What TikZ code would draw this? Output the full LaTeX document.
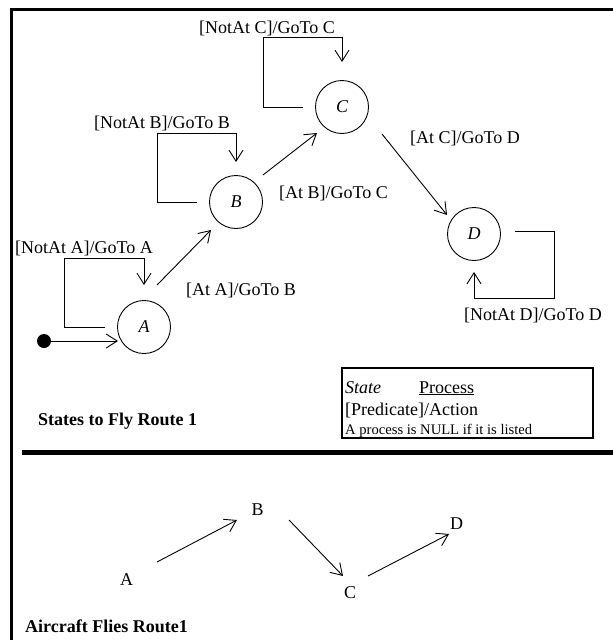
\documentclass[tikz,border=0pt]{standalone}
\usepackage{fontspec}
\setmainfont{Liberation Serif}
\usetikzlibrary{arrows.meta}
\tikzset{
  arr/.style={-{Straight Barb[length=11pt,width=14pt,line width=0.9pt]}, line width=0.9pt},
  state/.style={circle, draw, line width=0.9pt, minimum size=53pt, inner sep=0pt, font=\fontsize{18}{20}\selectfont\itshape},
  lbl/.style={inner sep=0pt, anchor=base west, font=\fontsize{18}{20}\selectfont},
  letter/.style={inner sep=0pt, anchor=base, font=\fontsize{18}{20}\selectfont},
  title/.style={inner sep=0pt, anchor=base west, font=\fontsize{18}{20}\selectfont\bfseries},
}
\begin{document}
\begin{tikzpicture}[x=1pt,y=-1pt]
\useasboundingbox (0,0) rectangle (613,640);
% frame
\draw[line width=3pt] (11,640) -- (11,9) -- (613,9);
\draw[line width=5pt] (22,452) -- (613,452);

% states
\node[state] (A) at (144,327) {A};
\node[state] (B) at (236,202) {B};
\node[state] (C) at (342,107) {C};
\node[state] (D) at (474,234) {D};
\node[circle, fill, inner sep=0pt, minimum size=14pt] (init) at (44,341) {};

% initial
\draw[arr] (init) -- ([shift={(-26,14)}]A.center);

% self loops
\draw[arr] ([shift={(-39,0)}]A.center) -| (64,258) -| ([shift={(0,-42)}]A.center);
\draw[arr] ([shift={(-39,0)}]B.center) -| (157,133) -| ([shift={(0,-40)}]B.center);
\draw[arr] ([shift={(-39,0)}]C.center) -| (263,37) -| ([shift={(0,-45)}]C.center);
\draw[arr] ([shift={(41,-3)}]D.center) -| (554,298) -| ([shift={(0,38)}]D.center);

% transitions
\draw[arr] ([shift={(13,-42)}]A.center) -- ([shift={(-25,28)}]B.center);
\draw[arr] ([shift={(27,-27)}]B.center) -- ([shift={(-25,26)}]C.center);
\draw[arr] ([shift={(40,27)}]C.center) -- ([shift={(-27,-19)}]D.center);

% labels
\node[lbl] (lNA) at (15,253) {[NotAt A]/GoTo A};
\node[lbl] (lNB) at (94,128) {[NotAt B]/GoTo B};
\node[lbl] (lNC) at (199,33) {[NotAt C]/GoTo C};
\node[lbl] (lND) at (464,320) {[NotAt D]/GoTo D};
\node[lbl] (lAB) at (186,295) {[At A]/GoTo B};
\node[lbl] (lBC) at (279,198) {[At B]/GoTo C};
\node[lbl] (lCD) at (410,143) {[At C]/GoTo D};

% legend
\draw[line width=1.2pt] (342,368) rectangle (593,438);
\node[lbl, font=\fontsize{18}{20}\selectfont\itshape] (lgS) at (345,393) {State};
\node[lbl] (lgP) at (419,393) {\underline{Process}};
\node[lbl] (lgA) at (345,415) {[Predicate]/Action};
\node[lbl, font=\fontsize{14.6}{16}\selectfont] (lgN) at (345,434) {A process is NULL if it is listed};

\node[title] (t1) at (38,425) {States to Fly Route 1};

% bottom
\node[letter] (A2) at (126.5,585) {A};
\node[letter] (B2) at (257.5,515) {B};
\node[letter] (C2) at (350,598) {C};
\node[letter] (D2) at (456.5,529) {D};
\draw[arr] ([shift={(30.5,-23)}]A2.base) -- ([shift={(-20.5,5)}]B2.base);
\draw[arr] ([shift={(31.5,5)}]B2.base) -- ([shift={(-7,-22)}]C2.base);
\draw[arr] ([shift={(18,-22)}]C2.base) -- ([shift={(-7.5,5)}]D2.base);

\node[title] (t2) at (25,632) {Aircraft Flies Route1};
\end{tikzpicture}
\end{document}
